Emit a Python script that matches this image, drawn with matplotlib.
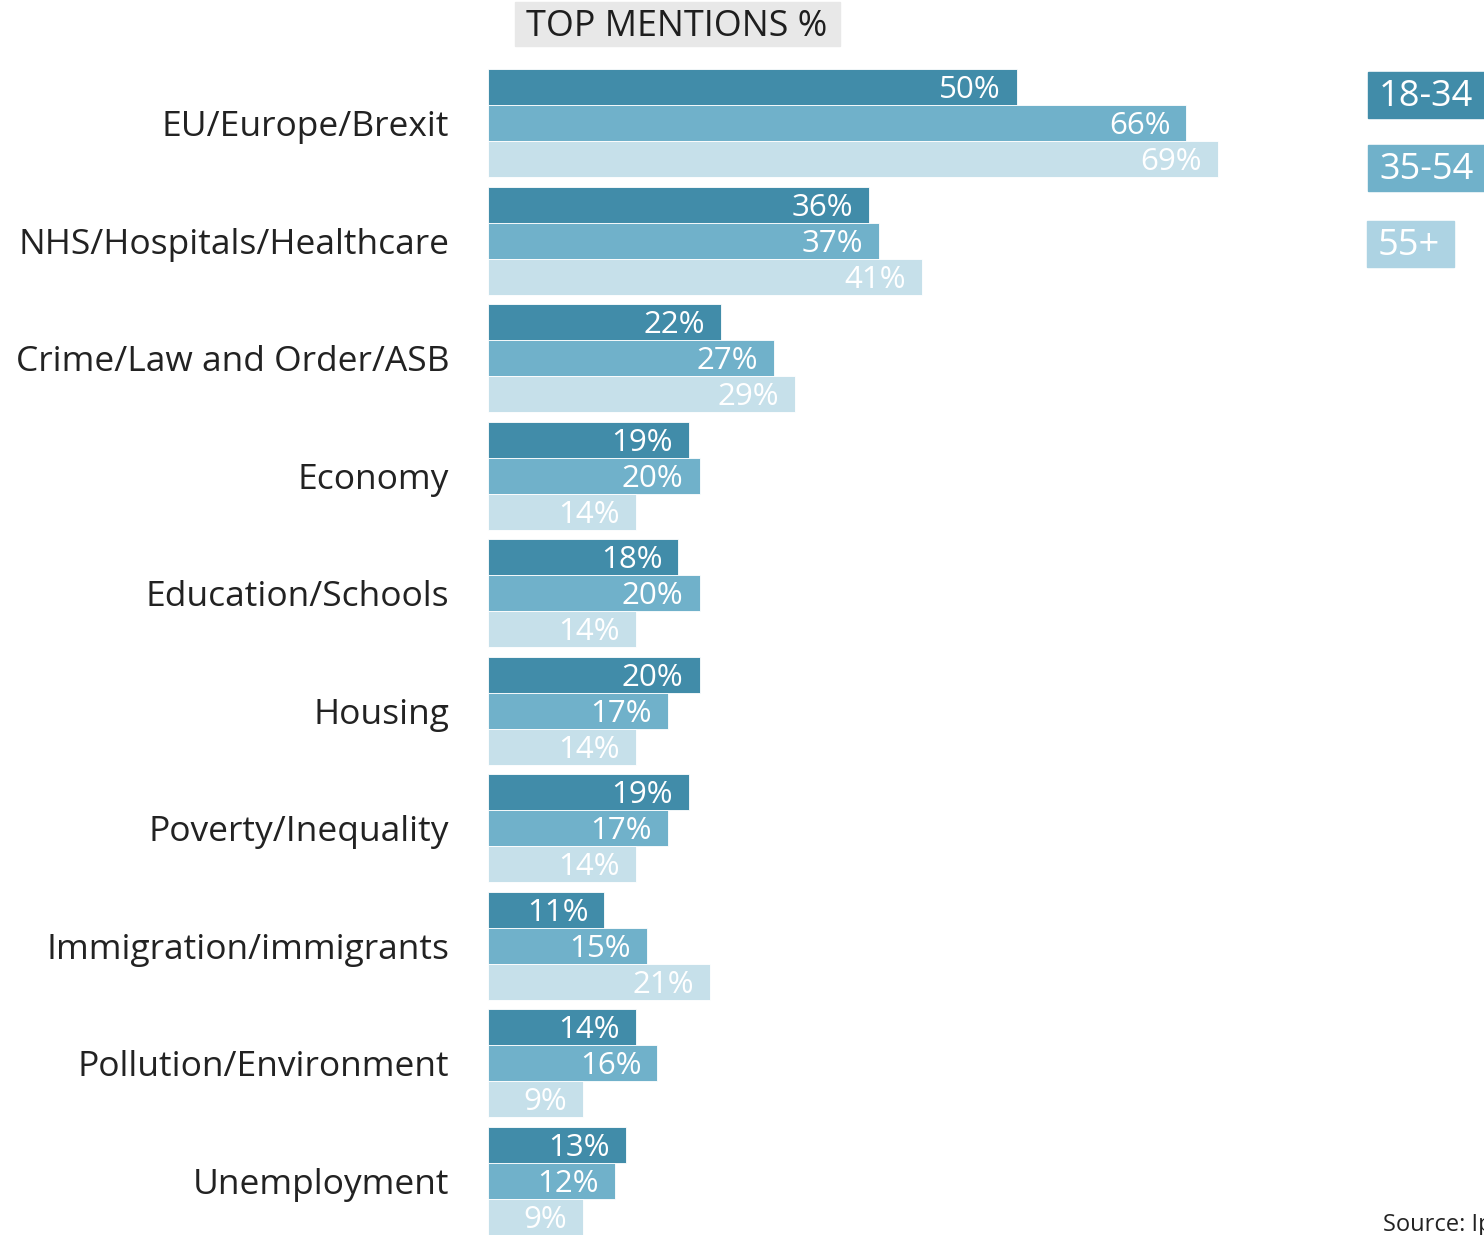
import matplotlib.pyplot as plt
from matplotlib.patches import Rectangle

# ---- data ----
categories = ["EU/Europe/Brexit", "NHS/Hospitals/Healthcare", "Crime/Law and Order/ASB",
              "Economy", "Education/Schools", "Housing", "Poverty/Inequality",
              "Immigration/immigrants", "Pollution/Environment", "Unemployment"]
age_groups = ["18-34", "35-54", "55+"]
vals_18_34 = [50, 36, 22, 19, 18, 20, 19, 11, 14, 13]
vals_35_54 = [66, 37, 27, 20, 20, 17, 17, 15, 16, 12]
vals_55 = [69, 41, 29, 14, 14, 14, 14, 21, 9, 9]

colors = ["#418ca9", "#70b1ca", "#c6e0ea"]
legend_colors = ["#418ca9", "#70b1ca", "#add3e3"]

plt.rcParams['font.family'] = ['Open Sans', 'DejaVu Sans']

W, H = 1484, 1235
fig = plt.figure(figsize=(W / 100, H / 100), dpi=100)

px_per_pct = 10.58
ax_left = 488
bar_h = 36 / 117.6
px_y = 1 / 117.6  # one pixel in data units (y)
ax = fig.add_axes([ax_left / W, 0, 1 - ax_left / W, 1 - 69 / H])
ax.set_xlim(0, (W - ax_left) / px_per_pct)
ax.set_ylim(9 + 1.5 * bar_h, -1.5 * bar_h)
ax.axis("off")

series = [vals_18_34, vals_35_54, vals_55]
pad = 16 / px_per_pct
for k, vals in enumerate(series):
    ys = [i + (k - 1) * bar_h for i in range(len(categories))]
    ax.barh(ys, vals, height=bar_h, color=colors[k], edgecolor="white", linewidth=0.6)
    for y, v in zip(ys, vals):
        ax.text(v - pad, y + 3 * px_y, f"{v}%", ha="right", va="center",
                color="white", fontsize=22.5)

for i, cat in enumerate(categories):
    ax.text(-39 / px_per_pct, i + 4 * px_y, cat, ha="right", va="center",
            color="#222222", fontsize=25.5, clip_on=False)

# title with grey box
fig.patches.append(Rectangle((515 / W, 1 - 46 / H), 325 / W, 44 / H,
                             transform=fig.transFigure, color="#e8e8e8", zorder=0))
fig.text(677 / W, 1 - 27 / H, "TOP MENTIONS %", ha="center", va="center",
         color="#1e1e1e", fontsize=25.8)

# legend boxes on the right
legend_boxes = [(1368, 72, 130), (1368, 145, 130), (1367, 221, 87)]
for (x0, y0, w), lab, c in zip(legend_boxes, age_groups, legend_colors):
    fig.patches.append(Rectangle((x0 / W, 1 - (y0 + 46) / H), w / W, 46 / H,
                                 transform=fig.transFigure, color=c))
    fig.text((x0 + 11) / W, 1 - (y0 + 25) / H, lab, ha="left", va="center",
             color="white", fontsize=26)

fig.text(1383 / W, 1 - 1225 / H, "Source: Ipsos MORI", ha="left", va="center",
         color="#222222", fontsize=17)

fig.savefig("out.png", dpi=100)
